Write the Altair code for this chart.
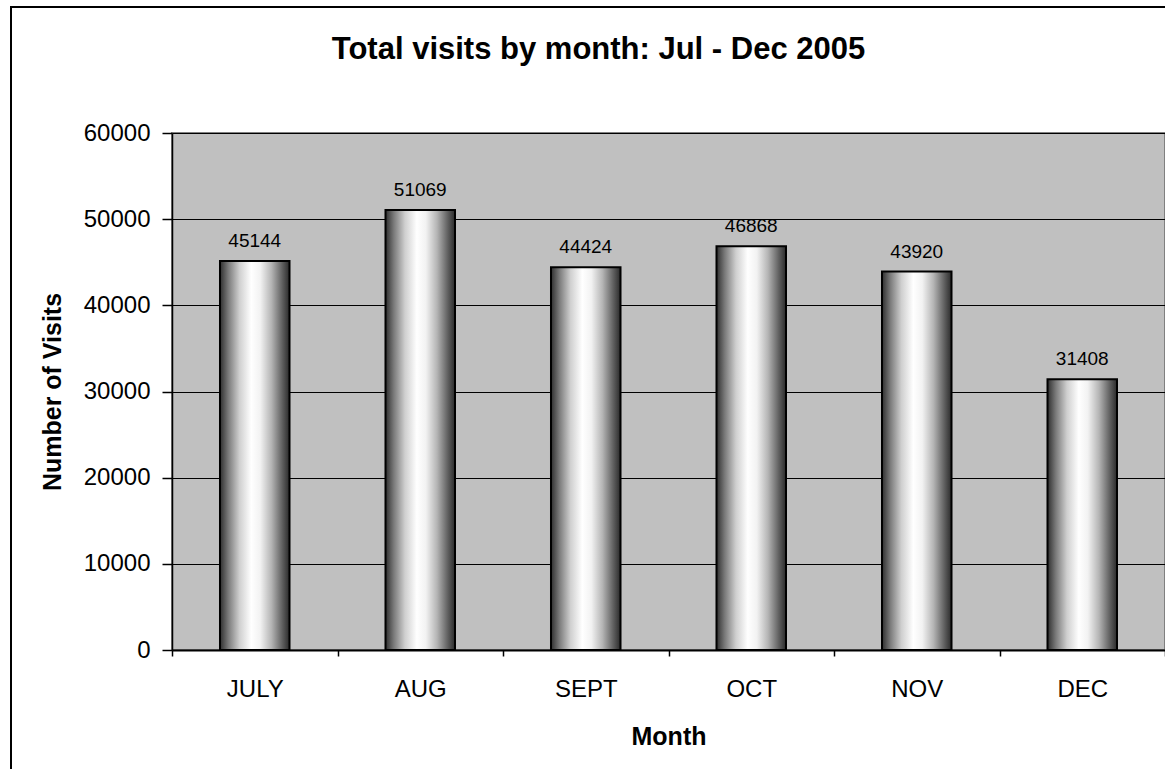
import altair as alt
import pandas as pd

months = ["JULY", "AUG", "SEPT", "OCT", "NOV", "DEC"]
visits = [45144, 51069, 44424, 46868, 43920, 31408]
y_ticks = [0, 10000, 20000, 30000, 40000, 50000, 60000]
title_text = "Total visits by month: Jul - Dec 2005"

df = pd.DataFrame({"Month": months, "Visits": visits})

FONT = "Liberation Sans"

grad = alt.LinearGradient(
    gradient="linear",
    stops=[
        alt.GradientStop(color="#2e2e2e", offset=0.0),
        alt.GradientStop(color="#7a7a7a", offset=0.12),
        alt.GradientStop(color="#cfcfcf", offset=0.28),
        alt.GradientStop(color="#ffffff", offset=0.45),
        alt.GradientStop(color="#f2f2f2", offset=0.58),
        alt.GradientStop(color="#b5b5b5", offset=0.74),
        alt.GradientStop(color="#5e5e5e", offset=0.9),
        alt.GradientStop(color="#2a2a2a", offset=1.0),
    ],
    x1=0, x2=1, y1=0, y2=0,
)

x_enc = alt.X(
    "Month:N",
    sort=months,
    scale=alt.Scale(paddingInner=0, paddingOuter=0),
    axis=alt.Axis(
        title="Month",
        labelAngle=0,
        tickBand="extent",
        tickSize=6,
        tickColor="black",
        tickWidth=1.5,
        domainColor="black",
        domainWidth=2,
        labelFontSize=24,
        labelFont=FONT,
        labelColor="black",
        labelPadding=21,
        titleFontSize=25,
        titleFont=FONT,
        titleFontWeight="bold",
        titleColor="black",
        titlePadding=23,
        grid=False,
    ),
)
y_enc = alt.Y(
    "Visits:Q",
    scale=alt.Scale(domain=[0, 60000], nice=False),
    axis=alt.Axis(
        title="Number of Visits",
        values=y_ticks,
        format="d",
        tickSize=10,
        tickColor="black",
        tickWidth=1.5,
        domainColor="black",
        domainWidth=1.5,
        grid=True,
        gridColor="black",
        gridWidth=1.2,
        labelFontSize=24,
        labelFont=FONT,
        labelColor="black",
        labelPadding=12,
        titleFontSize=25,
        titleFont=FONT,
        titleFontWeight="bold",
        titleColor="black",
        titlePadding=18,
    ),
)

border = alt.Chart(alt.Data(values=[{"k": 1}])).mark_rect(
    fillOpacity=0, stroke="black", strokeWidth=2
).encode(
    x=alt.value(-161), x2=alt.value(1100), y=alt.value(-126), y2=alt.value(700)
)

bars = alt.Chart(df).mark_bar(
    fill=grad, stroke="black", strokeWidth=2, width=alt.RelativeBandSize(0.42)
).encode(x=x_enc, y=y_enc)

labels = alt.Chart(df).mark_text(
    baseline="alphabetic", dy=-14, fontSize=19, font=FONT, color="black"
).encode(x=alt.X("Month:N", sort=months), y="Visits:Q", text="Visits:Q")

chart = alt.layer(border, bars, labels).properties(
    width=993,
    height=517,
    background="white",
    autosize=alt.AutoSizeParams(type="none"),
    padding={"left": 172, "top": 133, "right": 0, "bottom": 119},
    title=alt.TitleParams(
        title_text,
        font=FONT,
        fontSize=31,
        fontWeight="bold",
        color="black",
        anchor="middle",
        frame="group",
        baseline="alphabetic",
        dx=-70,
        offset=-84,
    ),
).configure_view(fill="#C0C0C0", stroke="#808080", strokeWidth=2)

chart.save("out.html", embed_options={"renderer": "svg", "actions": False})
